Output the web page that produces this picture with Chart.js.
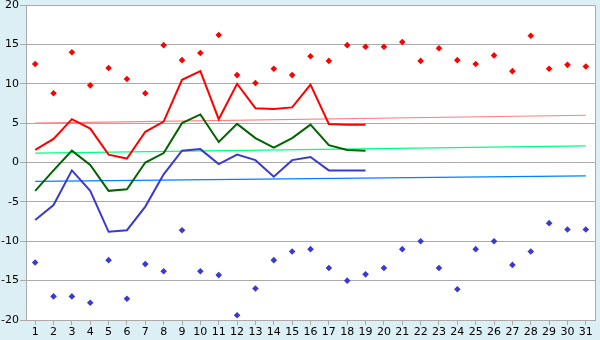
<!DOCTYPE html>
<html><head><meta charset="utf-8">
<script src="https://cdn.jsdelivr.net/npm/chart.js@4/dist/chart.umd.min.js"></script>
<style>html,body{margin:0;padding:0;background:#dbeff5;}#wrap{width:600px;height:340px;}</style>
</head><body><div id="wrap"><canvas id="c" width="600" height="340"></canvas></div>
<script>
const days = Array.from({length:31},(_,i)=>String(i+1));
const maxAvg = [1.6,3.0,5.5,4.3,1.0,0.5,3.9,5.2,10.5,11.6,5.5,10.0,6.9,6.8,7.0,9.9,4.9,4.8,4.8];
const meanAvg = [-3.6,-1.0,1.5,-0.3,-3.6,-3.4,0.0,1.2,5.0,6.1,2.6,4.9,3.1,1.9,3.1,4.8,2.2,1.6,1.5];
const minAvg = [-7.3,-5.4,-1.0,-3.6,-8.8,-8.6,-5.6,-1.5,1.5,1.7,-0.2,1.0,0.3,-1.8,0.3,0.7,-1.0,-1.0,-1.0];
const maxRecord = [12.5,8.8,14.0,9.8,12.0,10.6,8.8,14.9,13.0,13.9,16.2,11.1,10.1,11.9,11.1,13.5,12.9,14.9,14.7,14.7,15.3,12.9,14.5,13.0,12.5,13.6,11.6,16.1,11.9,12.4,12.2];
const minRecord = [-12.7,-17.0,-17.0,-17.8,-12.4,-17.3,-12.9,-13.8,-8.6,-13.8,-14.3,-19.4,-16.0,-12.4,-11.3,-11.0,-13.4,-15.0,-14.2,-13.4,-11.0,-10.0,-13.4,-16.1,-11.0,-10.0,-13.0,-11.3,-7.7,-8.5,-8.5];
const maxNormEnds = [5.0, 6.0];
const meanNormEnds = [1.2, 2.1];
const minNormEnds = [-2.4, -1.7];
const yTicks = {min:-20, max:20, step:5};

function ends(pair){ const a = new Array(days.length).fill(null); a[0]=pair[0]; a[days.length-1]=pair[1]; return a; }

const bgPlugin = {
  id:'bg',
  beforeDraw(chart){
    const {ctx, chartArea:a} = chart;
    ctx.save();
    ctx.fillStyle='#dbeff5'; ctx.fillRect(0,0,chart.width,chart.height);
    ctx.fillStyle='#ffffff'; ctx.fillRect(a.left,a.top,a.right-a.left,a.bottom-a.top);
    ctx.restore();
  },
  afterDatasetsDraw(chart){
    const {ctx, chartArea:a} = chart;
    ctx.save();
    ctx.strokeStyle='#aaaaaa'; ctx.lineWidth=1;
    ctx.beginPath();
    ctx.moveTo(a.left, a.top+0.5); ctx.lineTo(a.right+0.5, a.top+0.5); ctx.lineTo(a.right+0.5, a.bottom);
    ctx.stroke();
    ctx.restore();
  }
};

const lineDs = (data,color,w,order)=>({type:'line',data,borderColor:color,backgroundColor:color,borderWidth:w,pointRadius:0,tension:0,spanGaps:true,order});
const ptDs = (data,color,order)=>({type:'line',data,showLine:false,borderColor:color,backgroundColor:color,pointStyle:'rectRot',pointRadius:3.3,pointBorderWidth:0,order});

new Chart(document.getElementById('c'),{
  type:'line',
  data:{labels:days,datasets:[
    lineDs(ends(maxNormEnds),'#ff8080',1.2,10),
    lineDs(ends(meanNormEnds),'#00ff80',1.2,10),
    lineDs(ends(minNormEnds),'#0080ff',1.2,10),
    lineDs(maxAvg,'#ff0000',2,5),
    lineDs(meanAvg,'#006400',2,5),
    lineDs(minAvg,'#3a3acc',2,5),
    ptDs(maxRecord,'#ff0000',1),
    ptDs(minRecord,'#3a3acc',1)
  ]},
  plugins:[bgPlugin],
  options:{
    responsive:false,animation:false,
    layout:{padding:{top:0,right:5,left:0,bottom:0}},
    plugins:{legend:{display:false},tooltip:{enabled:false}},
    scales:{
      x:{type:'category',offset:true,
        grid:{drawOnChartArea:false,drawTicks:true,tickLength:5,color:'#aaaaaa'},
        border:{color:'#aaaaaa'},
        ticks:{color:'#000',font:{family:'DejaVu Sans',size:11},padding:1,maxRotation:0,autoSkip:false},
        afterFit(s){s.height=20;}
      },
      y:{min:yTicks.min,max:yTicks.max,
        grid:{color:'#aaaaaa',tickLength:6,drawTicks:true},
        border:{color:'#aaaaaa'},
        ticks:{stepSize:yTicks.step,color:'#000',font:{family:'DejaVu Sans',size:11},padding:1},
        afterFit(s){s.width=26;s.paddingTop=5;s.paddingBottom=0;}
      }
    }
  }
});
</script></body></html>
